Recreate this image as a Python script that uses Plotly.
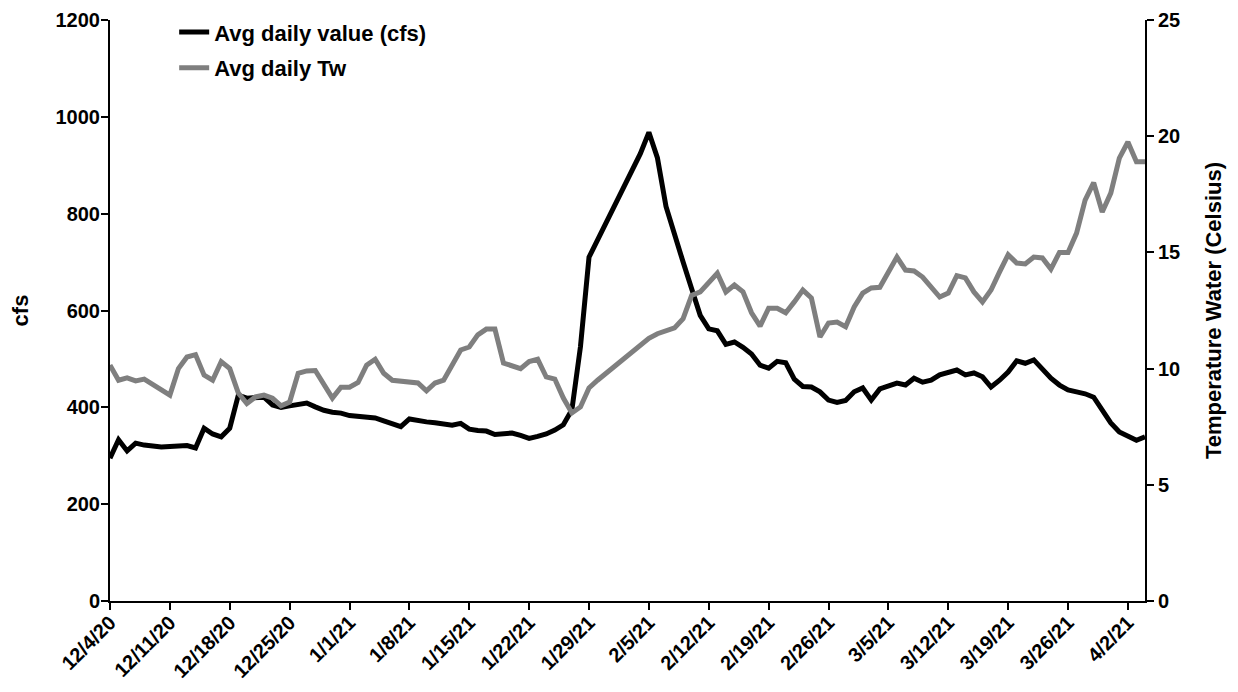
import pandas as pd
import plotly.graph_objects as go

start_date = "2020-12-04"
end_date = "2021-04-04"

cfs = [295, 333, 310, 326, 322, 320, 318, 319, 320, 321,
       316, 357, 345, 339, 357, 425, 419, 420, 421, 405,
       400, 403, 405, 409, 401, 394, 390, 388, 383, 381,
       381, 378, 372, 366, 360, 376, 372, 370, 368, 366,
       363, 367, 355, 352, 351, 344, 345, 347, 342, 336,
       340, 345, 353, 364, 395, 525, 710, 745, 780, 815,
       852, 888, 924, 968, 915, 815, 755, 700, 645, 590,
       562, 558, 530, 535, 524, 510, 487, 481, 495, 492,
       458, 443, 442, 432, 415, 410, 414, 432, 440, 415,
       438, 445, 450, 446, 460, 452, 456, 467, 471, 477,
       467, 471, 463, 442, 456, 473, 496, 491, 498, 477,
       460, 446, 436, 432, 428, 421, 394, 368, 349, 340,
       332, 339]

tw = [10.15, 9.5, 9.6, 9.47, 9.55, 9.3, 9.1, 8.86, 10.0, 10.5,
      10.6, 9.72, 9.5, 10.3, 10.0, 8.95, 8.5, 8.78, 8.86, 8.73,
      8.4, 8.56, 9.8, 9.9, 9.92, 9.3, 8.73, 9.2, 9.2, 9.4,
      10.15, 10.4, 9.8, 9.5, 9.45, 9.42, 9.38, 9.04, 9.38, 9.5,
      10.15, 10.8, 10.93, 11.45, 11.7, 11.7, 10.24, 10.1, 10.0, 10.3,
      10.4, 9.64, 9.55, 8.73, 8.09, 8.35, 9.17, 9.5, 9.8, 10.1,
      10.4, 10.7, 11.0, 11.3, 11.5, 11.6, 11.75, 12.15, 13.15, 13.3,
      13.7, 14.1, 13.3, 13.6, 13.3, 12.4, 11.83, 12.6, 12.6, 12.4,
      12.87, 13.38, 13.04, 11.36, 11.96, 12.0, 11.8, 12.65, 13.25, 13.47,
      13.5, 14.1, 14.8, 14.24, 14.2, 13.94, 13.5, 13.08, 13.25, 14.0,
      13.9, 13.3, 12.87, 13.38, 14.16, 14.9, 14.54, 14.5, 14.8, 14.76,
      14.28, 15.0, 15.0, 15.83, 17.25, 18.0, 16.74, 17.55, 19.06, 19.75,
      18.9, 18.9]

tick_labels = ["12/4/20", "12/11/20", "12/18/20", "12/25/20", "1/1/21", "1/8/21",
               "1/15/21", "1/22/21", "1/29/21", "2/5/21", "2/12/21", "2/19/21",
               "2/26/21", "3/5/21", "3/12/21", "3/19/21", "3/26/21", "4/2/21"]

dates = pd.date_range(start_date, end_date, freq="D")
tick_vals = [pd.to_datetime(t, format="%m/%d/%y") for t in tick_labels]

font_family = "Liberation Sans, Arial, sans-serif"

fig = go.Figure()
fig.add_trace(go.Scatter(x=dates, y=cfs, mode="lines", name="<b>Avg daily value (cfs)</b>",
                         line=dict(color="#000000", width=5), legendgroup="a"))
fig.add_trace(go.Scatter(x=dates, y=tw, mode="lines", name="<b>Avg daily Tw</b>",
                         line=dict(color="#7f7f7f", width=5), yaxis="y2", legendgroup="b"))

axis_font = dict(family=font_family, size=20, color="#000000", weight="bold")
title_font = dict(family=font_family, size=22, color="#000000")
common = dict(showgrid=False, zeroline=False, showline=True, linecolor="#000000", linewidth=2,
              ticks="outside", ticklen=7, tickwidth=2, tickcolor="#000000", automargin=False)

fig.update_layout(
    width=1230, height=684,
    margin=dict(l=102, r=93, t=12, b=91, autoexpand=False),
    plot_bgcolor="white", paper_bgcolor="white",
    font=dict(family=font_family, color="#000000"),
    showlegend=True,
    legend=dict(x=0.062, y=1.015, xanchor="left", yanchor="top",
                font=dict(family=font_family, size=22, color="#000000"),
                bgcolor="rgba(0,0,0,0)", tracegroupgap=4, traceorder="grouped"),
    xaxis=dict(type="date", range=[dates[0], dates[-1]],
               tickvals=tick_vals, ticktext=tick_labels, tickangle=-45,
               tickfont=dict(family=font_family, size=20, color="#000000", weight="bold"),
               ticklabelstandoff=-7,
               **common),
    yaxis=dict(range=[0, 1200], tickvals=[0, 200, 400, 600, 800, 1000, 1200],
               tickfont=axis_font, ticklabelstandoff=-3,
               title=dict(text="<b>cfs</b>", font=title_font, standoff=25),
               **common),
    yaxis2=dict(range=[0, 25], tickvals=[0, 5, 10, 15, 20, 25], overlaying="y", side="right",
                tickfont=axis_font,
                title=dict(text="<b>Temperature Water (Celsius)</b>", font=title_font, standoff=26),
                **common),
)

fig.write_html("out.html")
